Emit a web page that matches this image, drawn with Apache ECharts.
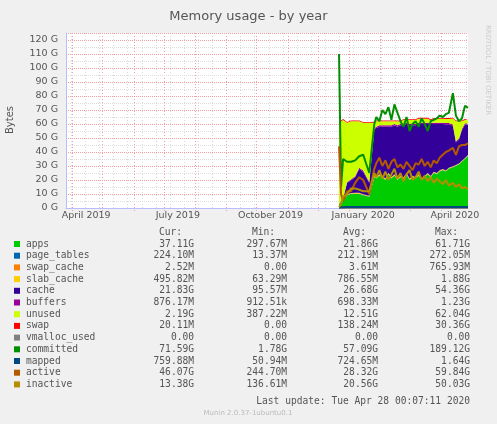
<!DOCTYPE html>
<html><head><meta charset="utf-8">
<script src="https://cdn.jsdelivr.net/npm/echarts@6/dist/echarts.min.js"></script>
<style>html,body{margin:0;padding:0;background:#f0f0f0}#c{width:497px;height:424px}</style>
</head><body><div id="c"></div>
<script>
const dates = ['2019-12-22','2019-12-24','2019-12-26','2019-12-30','2020-01-03','2020-01-07','2020-01-11','2020-01-15','2020-01-21','2020-01-26','2020-01-28','2020-01-31','2020-02-03','2020-02-06','2020-02-09','2020-02-12','2020-02-15','2020-02-18','2020-02-21','2020-02-24','2020-02-27','2020-03-01','2020-03-04','2020-03-07','2020-03-10','2020-03-13','2020-03-16','2020-03-19','2020-03-22','2020-03-25','2020-03-28','2020-03-31','2020-04-03','2020-04-06','2020-04-09','2020-04-13','2020-04-16','2020-04-19','2020-04-22','2020-04-25','2020-04-28'];
// values in GB
const apps =       [3,4,5,9,10,10,10,9,8,22,21,23,22,20,24,21,23,20,22,21,24,20,22,21,23,20,22,24,22,25,24,26,27,26,28,29,30,31,33,35,37.1];
const pageTables = [0.1,0.15,0.2,0.2,0.2,0.2,0.2,0.2,0.2,0.22,0.22,0.22,0.22,0.22,0.22,0.22,0.22,0.22,0.22,0.22,0.22,0.22,0.22,0.22,0.22,0.22,0.22,0.22,0.22,0.22,0.22,0.22,0.22,0.22,0.22,0.22,0.22,0.22,0.22,0.22,0.22];
const swapCache =  [0,0,0,0,0,0,0,0,0,0,0,0,0,0,0,0,0,0,0,0,0,0,0,0,0,0,0,0,0,0,0,0,0,0,0,0,0,0,0,0,0];
const slabCache =  [0.2,0.3,0.5,0.6,0.6,0.7,0.7,0.7,0.6,0.9,0.9,0.9,0.9,0.9,0.9,0.9,0.9,0.9,0.8,0.8,0.8,0.8,0.8,0.8,0.8,0.8,0.8,0.8,0.7,0.7,0.7,0.7,0.7,0.6,0.6,0.6,0.5,0.5,0.5,0.5,0.5];
const cache =      [0.1,0.3,1,8,9,11,17,16,9,33,35,34,35,37,33,36,35,37,36,37,35,38,36,37,36,39,37,35,37,34,35,33,32,33,31,29,16,17,22,24,21.8];
const buffers =    [0.05,0.1,0.3,0.6,0.7,0.7,0.8,0.8,0.7,0.9,0.9,0.9,0.9,0.9,0.9,0.9,0.9,0.9,0.9,0.9,0.9,0.9,0.9,0.9,0.9,0.9,0.9,0.9,0.9,0.9,0.9,0.9,0.9,0.9,0.9,0.9,0.9,0.9,0.9,0.9,0.88];
const unused =     [58.5,57,55.9,42.5,41.4,39.3,33.2,34.2,42.4,3.9,3.9,2.9,2.9,2.9,2.9,2.9,1.9,2.9,1.9,2.9,1.9,2.9,2.9,2.9,2.9,2.9,2.9,2.9,1.9,2.9,2.9,2.9,2.9,2.9,2.9,4.2,14.3,12.3,5.3,2.3,2.2];
const swap =       [0.6,0.6,0.6,0.6,0.6,0.6,0.6,0.6,0.6,0.6,0.6,0.6,0.6,0.6,0.6,0.6,0.6,0.6,0.6,0.6,0.6,0.6,0.6,0.6,0.6,0.6,0.6,0.6,0.6,0.6,0.6,0.6,0.6,0.6,0.6,0.6,0.6,0.6,0.6,0.6,0.6];
const vmalloc =    [0,0,0,0,0,0,0,0,0,0,0,0,0,0,0,0,0,0,0,0,0,0,0,0,0,0,0,0,0,0,0,0,0,0,0,0,0,0,0,0,0];
const committed =  [110,15,35,33,33,34,37,38,25,60,65,62,70,67,72,63,74,68,62,58,65,55,60,62,58,64,60,55,62,63,64,66,65,67,68,82,66,62,64,73,71.6];
const mapped =     [0.3,0.5,0.6,0.7,0.7,0.7,0.7,0.7,0.7,0.8,0.8,0.8,0.8,0.8,0.8,0.8,0.8,0.8,0.8,0.8,0.8,0.8,0.8,0.8,0.8,0.8,0.8,0.8,0.8,0.8,0.8,0.8,0.8,0.8,0.8,0.8,0.8,0.8,0.8,0.8,0.76];
const active =     [44,10,5,12,12,18,22,20,10,28,32,36,30,34,28,33,35,29,31,28,33,30,27,32,31,35,30,33,29,34,32,36,38,40,41,43,38,44,45,45,46.1];
const inactive =   [0.5,3,8,10,14,14,13,12,12,25,22,27,21,26,20,24,28,21,25,19,24,27,20,22,26,20,23,19,22,18,21,19,17,20,16,18,15,17,14,15,13.4];
const monthStarts = ['2019-04-01','2019-05-01','2019-06-01','2019-07-01','2019-08-01','2019-09-01','2019-10-01','2019-11-01','2019-12-01','2020-01-01','2020-02-01','2020-03-01','2020-04-01'];
const monthLabels = [['2019-04-15','April 2019'],['2019-07-15','July 2019'],['2019-10-15','October 2019'],['2020-01-15','January 2020'],['2020-04-15','April 2020']];

const legendRows = [
 ['apps','#00cc00','37.11G','297.67M','21.86G','61.71G'],
 ['page_tables','#0066b3','224.10M','13.37M','212.19M','272.05M'],
 ['swap_cache','#ff8000','2.52M','0.00','3.61M','765.93M'],
 ['slab_cache','#ffcc00','495.82M','63.29M','786.55M','1.88G'],
 ['cache','#330099','21.83G','95.57M','26.68G','54.36G'],
 ['buffers','#990099','876.17M','912.51k','698.33M','1.23G'],
 ['unused','#ccff00','2.19G','387.22M','12.51G','62.04G'],
 ['swap','#ff0000','20.11M','0.00','138.24M','30.36G'],
 ['vmalloc_used','#808080','0.00','0.00','0.00','0.00'],
 ['committed','#008f00','71.59G','1.78G','57.09G','189.12G'],
 ['mapped','#00487d','759.88M','50.94M','724.65M','1.64G'],
 ['active','#b35a00','46.07G','244.70M','28.32G','59.84G'],
 ['inactive','#b38f00','13.38G','136.61M','20.56G','50.03G']
];

const G = 1e9;
const DAY = 86400000;
const T = d => Date.parse(d + 'T00:00:00Z');
const ts = dates.map(T);
const pair = arr => arr.map((v,i) => [ts[i], v*G]);
const areas = [['apps',apps,'#00cc00'],['page_tables',pageTables,'#0066b3'],['swap_cache',swapCache,'#ff8000'],['slab_cache',slabCache,'#ffcc00'],['cache',cache,'#330099'],['buffers',buffers,'#990099'],['unused',unused,'#ccff00'],['swap',swap,'#ff0000']];
const lines = [['vmalloc_used',vmalloc,'#808080'],['committed',committed,'#008f00'],['mapped',mapped,'#00487d'],['active',active,'#b35a00'],['inactive',inactive,'#b38f00']];
const series = [];
areas.forEach(([n,a,c]) => series.push({name:n,type:'line',stack:'mem',data:pair(a),symbol:'none',lineStyle:{width:0},areaStyle:{color:c,opacity:1},color:c,z:2}));
lines.forEach(([n,a,c]) => series.push({name:n,type:'line',data:pair(a),symbol:'none',lineStyle:{width:2,color:c},color:c,z:3}));

const graphic = [];
const mono = '"DejaVu Sans Mono", monospace';
const cols = [194,287,378,470];
['Cur:','Min:','Avg:','Max:'].forEach((h,i)=>graphic.push({type:'text',x:cols[i]-12,y:232,style:{text:h,font:'9.6px '+mono,fill:'#555',align:'right',verticalAlign:'middle'}}));
legendRows.forEach((r,i)=>{
  const y = 244 + i*11.7;
  graphic.push({type:'rect',shape:{x:14,y:y-3,width:6,height:6},style:{fill:r[1]}});
  graphic.push({type:'text',x:26,y:y,style:{text:r[0],font:'9.6px '+mono,fill:'#555',verticalAlign:'middle'}});
  for (let k=0;k<4;k++) graphic.push({type:'text',x:cols[k],y:y,style:{text:r[k+2],font:'9.6px '+mono,fill:'#555',align:'right',verticalAlign:'middle'}});
});
graphic.push({type:'text',x:470,y:401,style:{text:'Last update: Tue Apr 28 00:07:11 2020',font:'9.6px '+mono,fill:'#555',align:'right',verticalAlign:'middle'}});
graphic.push({type:'text',x:248,y:413,style:{text:'Munin 2.0.37-1ubuntu0.1',font:'7px "DejaVu Sans"',fill:'#bbb',align:'center',verticalAlign:'middle'}});
graphic.push({type:'text',x:10,y:120,rotation:Math.PI/2,style:{text:'Bytes',font:'10px "DejaVu Sans"',fill:'#555',align:'center',verticalAlign:'middle'}});
graphic.push({type:'text',x:488,y:70,rotation:-Math.PI/2,style:{text:'RRDTOOL / TOBI OETIKER',font:'7px "DejaVu Sans"',fill:'#ccc',align:'center',verticalAlign:'middle'}});

const xMin = T('2019-03-26'), xMax = T('2020-04-28');
const chart = echarts.init(document.getElementById('c'));
const opt = {
  backgroundColor:'#f0f0f0',
  animation:false,
  title:{text:'Memory usage - by year',left:'center',top:5,textStyle:{fontFamily:'DejaVu Sans',fontSize:13,fontWeight:'normal',color:'#555'}},
  grid:{left:66,right:29,top:33,bottom:216,show:false},
  xAxis:{type:'time',min:xMin,max:xMax,
    axisLine:{lineStyle:{color:'#bbf'}},axisTick:{show:false},splitLine:{show:false},axisLabel:{show:false}},
  yAxis:{type:'value',min:0,max:125*G,interval:10*G,
    axisLine:{show:true,lineStyle:{color:'#bbf'}},axisTick:{show:false},
    splitLine:{lineStyle:{color:'#f4a0a0',type:'dotted'}},
    minorTick:{show:false,splitNumber:2},minorSplitLine:{show:true,lineStyle:{color:'#ddd',type:'dotted'}},
    axisLabel:{fontFamily:'DejaVu Sans',fontSize:9.5,color:'#555',formatter:v=>(v/G)+' G',showMaxLabel:false}},
  series: series,
  graphic: graphic
};
chart.setOption(opt);
const px = t => chart.convertToPixel({xAxisIndex:0}, t);
const yTop = chart.convertToPixel({yAxisIndex:0}, 125*G), yBot = chart.convertToPixel({yAxisIndex:0}, 0);
const xL = px(xMin), xR = px(xMax);
const extra = [{type:'rect',z:-10,shape:{x:xL,y:yTop,width:xR-xL,height:yBot-yTop},style:{fill:'#fff'}}];
for (let t = T('2019-03-31'); t < xMax; t += 14*DAY) {
  const x = Math.round(px(t)) + 0.5;
  extra.push({type:'line',z:-5,shape:{x1:x,y1:yTop,x2:x,y2:yBot},style:{stroke:'#d8d8d8',lineDash:[1,2]}});
}
monthStarts.forEach(d=>{
  const x = Math.round(px(T(d))) + 0.5;
  extra.push({type:'line',z:-4,shape:{x1:x,y1:yTop,x2:x,y2:yBot+3},style:{stroke:'#f4a0a0',lineDash:[1,2]}});
});
monthLabels.forEach(([d,n])=>{
  extra.push({type:'text',x:px(T(d)),y:yBot+8,style:{text:n,font:'9.5px "DejaVu Sans"',fill:'#555',align:'center',verticalAlign:'middle'}});
});
chart.setOption({graphic: graphic.concat(extra)}, {replaceMerge:['graphic']});
</script></body></html>
